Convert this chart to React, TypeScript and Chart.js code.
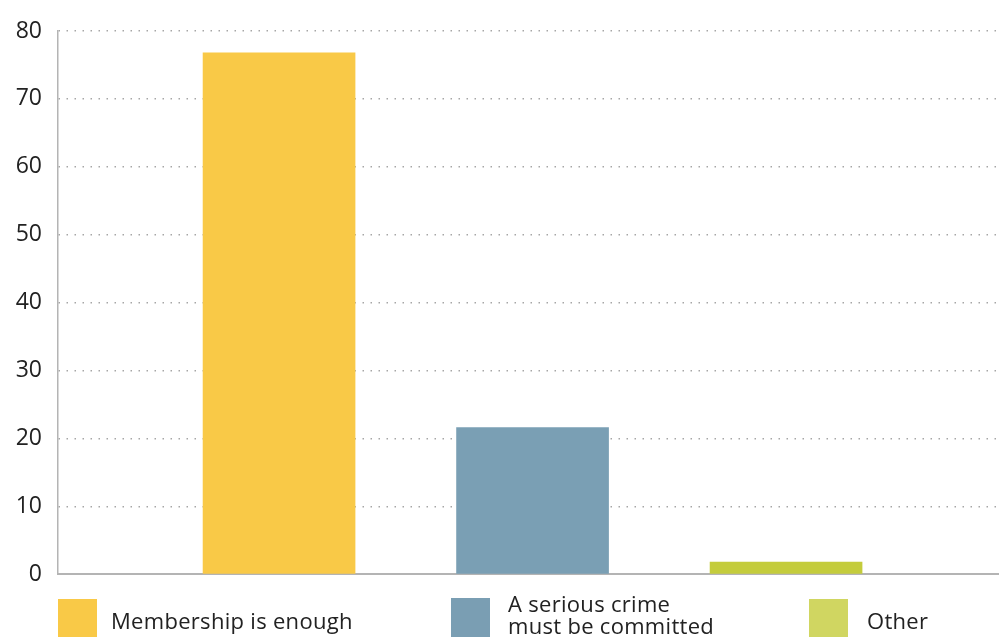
import React, { useEffect, useRef } from "react";
import { Chart, registerables } from "chart.js";

Chart.register(...registerables);

const categories = ["Membership is enough", "A serious crime must be committed", "Other"];
const legendLines = [["Membership is enough"], ["A serious crime", "must be committed"], ["Other"]];
const values = [76.8, 21.6, 1.8];
const barColors = ["#F9C947", "#7A9FB4", "#C4CC3C"];
const legendColors = ["#F9C947", "#7A9EB3", "#D0D661"];
const positions = [1, 2, 3];
const yMin = 0;
const yMax = 80;
const yStep = 10;

const FONT = "'Open Sans', 'Noto Sans', sans-serif";

export default function App() {
  const ref = useRef<HTMLCanvasElement | null>(null);

  useEffect(() => {
    document.body.style.margin = "0";
    if (!ref.current) return;
    const chart = new Chart(ref.current, {
      type: "bar",
      data: {
        datasets: [
          {
            label: "Share",
            data: positions.map((x, i) => ({ x, y: values[i] })),
            backgroundColor: barColors,
            borderWidth: 0,
            barThickness: 152,
          },
        ],
      },
      options: {
        animation: false,
        responsive: true,
        maintainAspectRatio: false,
        layout: { padding: { top: 31, bottom: 15, left: 0, right: 0 } },
        plugins: { legend: { display: false }, tooltip: { enabled: false } },
        scales: {
          x: {
            type: "linear",
            offset: false,
            min: 0.128,
            max: 3.84,
            ticks: { display: false },
            grid: { display: false, offset: false },
            border: { display: true, color: "#b4b4b4", width: 2 },
            afterFit: (s: any) => {
              s.height = 2;
            },
          },
          y: {
            min: yMin,
            max: yMax,
            z: 1,
            ticks: {
              stepSize: yStep,
              padding: 16,
              color: "#222",
              font: { family: FONT, size: 23 },
            },
            grid: {
              drawTicks: false,
              lineWidth: 1.5,
              color: (c: any) => (c.tick && c.tick.value === 0 ? "rgba(0,0,0,0)" : "rgba(0,0,0,0.35)"),
            },
            border: { display: true, color: "#b4b4b4", width: 1.5, dash: [1.5, 6.5] },
            afterFit: (s: any) => {
              s.width = 58;
            },
          },
        },
      },
    });
    return () => chart.destroy();
  }, []);

  const legendX = [58, 451, 809];
  const legendGap = [14, 18, 19];
  return (
    <div style={{ position: "absolute", left: 0, top: 0, width: 999, height: 637, overflow: "hidden", background: "#fff" }}>
      <div style={{ position: "absolute", left: 0, top: 0, width: 999, height: 604 }}>
        <canvas ref={ref} />
      </div>
      {categories.map((c, i) => (
        <div key={c} style={{ position: "absolute", left: legendX[i], top: 598, height: 40, display: "flex", alignItems: legendLines[i].length > 1 ? "flex-start" : "center" }}>
          <div style={{ width: 39, height: 39, background: legendColors[i], flex: "none" }} />
          <div style={{ marginLeft: legendGap[i], marginTop: legendLines[i].length > 1 ? -6 : 3, fontFamily: FONT, fontSize: 22, lineHeight: "22px", color: "#222", letterSpacing: 0.3 }}>
            {legendLines[i].map((l) => (
              <div key={l}>{l}</div>
            ))}
          </div>
        </div>
      ))}
    </div>
  );
}
